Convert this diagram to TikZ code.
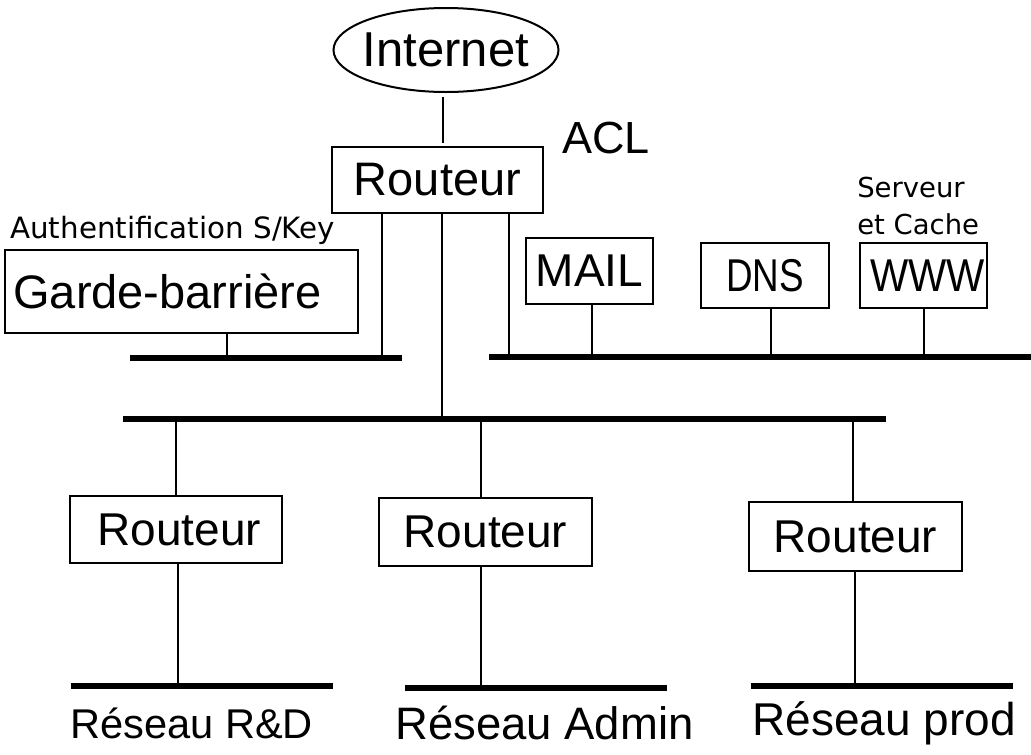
\documentclass[tikz,border=0pt]{standalone}
\usepackage{fontspec}
\setmainfont{Liberation Sans}
\newfontfamily\smallfont{DejaVu Sans}
\usetikzlibrary{shapes.geometric}
\begin{document}
\begin{tikzpicture}[x=0.75pt,y=-0.75pt,
  box/.style={draw, line width=1.5pt, rectangle, inner sep=0pt},
  bigtxt/.style={font=\fontsize{34.5}{40}\selectfont},
  thinline/.style={line width=1.6pt},
  busline/.style={line width=3.9pt},
  lbl/.style={inner sep=0pt, anchor=base west}]
\useasboundingbox (0,0) rectangle (1031,754);

% --- nodes ---
\node[draw, ellipse, line width=1.5pt, inner xsep=-4.5pt, inner ysep=0pt, minimum width=225*0.75pt, minimum height=84*0.75pt,
      font=\fontsize{36.75}{40}\selectfont] (inet) at (446,50) {Internet};
\node[box, bigtxt, font=\fontsize{35.25}{40}\selectfont, minimum width=211*0.75pt, minimum height=66*0.75pt] (R0) at (437.5,180) {Routeur};
\node[lbl, font=\fontsize{33.75}{40}\selectfont] (acl) at (562,153) {ACL};
\node[lbl, font=\smallfont\fontsize{22}{24}\selectfont] (auth) at (10,238) {Authentification S/Key};
\node[box, font=\fontsize{35.25}{40}\selectfont, minimum width=353*0.75pt, minimum height=83*0.75pt] (GB) at (181.5,291.5) {Garde-barrière\hspace*{21pt}};
\node[box, bigtxt, minimum width=127*0.75pt, minimum height=66*0.75pt] (mail) at (589.5,271) {MAIL};
\node[box, bigtxt, minimum width=128*0.75pt, minimum height=65*0.75pt] (dns) at (765,275.5) {\scalebox{0.8}[1]{DNS}};
\node[box, bigtxt, minimum width=127*0.75pt, minimum height=65*0.75pt] (www) at (923.5,275.5) {\hspace*{6pt}\scalebox{0.88}[1]{WWW}};
\node[lbl, font=\smallfont\fontsize{20.6}{24}\selectfont] (srv1) at (857,197) {Serveur};
\node[lbl, font=\smallfont\fontsize{20.6}{24}\selectfont] (srv2) at (857,234) {et Cache};

\node[box, bigtxt, minimum width=212*0.75pt, minimum height=67*0.75pt] (R1) at (176,529.5) {\hspace*{5pt}Routeur};
\node[box, bigtxt, minimum width=213*0.75pt, minimum height=68*0.75pt] (R2) at (485.5,532) {Routeur};
\node[box, bigtxt, minimum width=213*0.75pt, minimum height=69*0.75pt] (R3) at (855.5,536.5) {Routeur};

\node[lbl, font=\fontsize{31.2}{36}\selectfont] (n1) at (70,738) {Réseau R\&D};
\node[lbl, font=\fontsize{34.1}{40}\selectfont] (n2) at (395,739) {Réseau Admin};
\node[lbl, font=\fontsize{34.5}{40}\selectfont] (n3) at (752,735) {Réseau prod};

% --- buses ---
\coordinate (bLw) at (130,358);  \coordinate (bLe) at (402,358);
\coordinate (bRw) at (489,357);  \coordinate (bRe) at (1031,357);
\coordinate (bMw) at (123,419);  \coordinate (bMe) at (886,419);
\coordinate (b1w) at (71,686);   \coordinate (b1e) at (333,686);
\coordinate (b2w) at (405,688);  \coordinate (b2e) at (667,688);
\coordinate (b3w) at (751,686);  \coordinate (b3e) at (1013,686);
\foreach \a/\b in {bLw/bLe, bRw/bRe, bMw/bMe, b1w/b1e, b2w/b2e, b3w/b3e}
  \draw[busline] (\a) -- (\b);

% --- taps ---
\coordinate (xI) at (443,0);
\draw[thinline, shorten <=4*0.75pt, shorten >=3*0.75pt] (inet.south -| xI) -- (R0.north -| xI);
\coordinate (tL) at (382,358);  \draw[thinline] (R0.south -| tL) -- (tL);
\coordinate (tM) at (442,419);  \draw[thinline] (R0.south -| tM) -- (tM);
\coordinate (tR) at (509,357);  \draw[thinline] (R0.south -| tR) -- (tR);
\coordinate (tG) at (227,358);  \draw[thinline] (GB.south -| tG) -- (tG);
\coordinate (tMail) at (592,357); \draw[thinline] (mail.south -| tMail) -- (tMail);
\coordinate (tDns) at (771,357);  \draw[thinline] (dns.south -| tDns) -- (tDns);
\coordinate (tWww) at (924,357);  \draw[thinline] (www.south -| tWww) -- (tWww);

\coordinate (d1) at (176,419); \draw[thinline] (d1) -- (R1.north -| d1);
\coordinate (d2) at (481,419); \draw[thinline] (d2) -- (R2.north -| d2);
\coordinate (d3) at (853,419); \draw[thinline] (d3) -- (R3.north -| d3);
\coordinate (u1) at (178,686); \draw[thinline] (R1.south -| u1) -- (u1);
\coordinate (u2) at (481,688); \draw[thinline] (R2.south -| u2) -- (u2);
\coordinate (u3) at (855,686); \draw[thinline] (R3.south -| u3) -- (u3);
\end{tikzpicture}
\end{document}
